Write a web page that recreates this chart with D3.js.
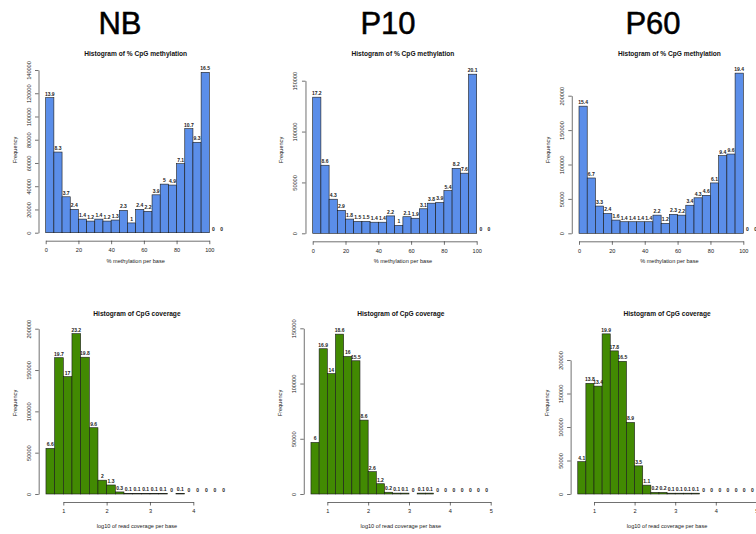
<!DOCTYPE html>
<html><head><meta charset="utf-8">
<script src="https://cdn.jsdelivr.net/npm/d3@7"></script>
<style>
body{margin:0;background:#fff;}
svg{display:block;font-family:"Liberation Sans",Arial,Helvetica,sans-serif;}
</style></head><body>
<svg id="chart" width="756" height="534"></svg>
<script>
// ---------- data ----------
const sampleNames = ["NB", "P10", "P60"];

const methBinStarts = [0,5,10,15,20,25,30,35,40,45,50,55,60,65,70,75,80,85,90,95,100,105];
const methBinWidth = 5;
const methXTicks = [0,20,40,60,80,100];

const nbMethCounts  = [116200,69400,30900,20100,11700,10000,11700,10000,10900,19200,8400,20100,18400,32600,41800,41000,59400,89500,77800,138000,0,0];
const nbMethLabels  = ["13.9","8.3","3.7","2.4","1.4","1.2","1.4","1.2","1.3","2.3","1","2.4","2.2","3.9","5","4.9","7.1","10.7","9.3","16.5","0","0"];
const p10MethCounts = [133800,66900,33500,22600,14000,11700,11700,10900,10900,17100,7800,16300,14800,24100,29600,30300,42000,63800,59100,156400,0,0];
const p10MethLabels = ["17.2","8.6","4.3","2.9","1.8","1.5","1.5","1.4","1.4","2.2","1","2.1","1.9","3.1","3.8","3.9","5.4","8.2","7.6","20.1","0","0"];
const p60MethCounts = [184800,80400,39600,28800,19200,16800,16800,16800,16800,26400,14400,27600,26400,40800,51600,55200,73200,112800,115200,232800,0,0];
const p60MethLabels = ["15.4","6.7","3.3","2.4","1.6","1.4","1.4","1.4","1.4","2.2","1.2","2.3","2.2","3.4","4.3","4.6","6.1","9.4","9.6","19.4","0","0"];

const nbMethYTicks  = [0,20000,40000,60000,80000,100000,120000,140000];
const p10MethYTicks = [0,50000,100000,150000];
const p60MethYTicks = [0,50000,100000,150000,200000];

const covBinStarts = [0.6,0.8,1.0,1.2,1.4,1.6,1.8,2.0,2.2,2.4,2.6,2.8,3.0,3.2,3.4,3.6,3.8,4.0,4.2,4.4,4.6,4.8];
const covBinWidth = 0.2;
const nbCovXTicks = [1,2,3,4];
const covXTicks = [1,2,3,4,5];

const nbCovCounts  = [55200,164900,142000,194000,165500,80200,16700,10900,2500,800,800,800,800,800,0,800,0,0,0,0,0];
const nbCovLabels  = ["6.6","19.7","17","23.2","19.8","9.6","2","1.3","0.3","0.1","0.1","0.1","0.1","0.1","0","0.1","0","0","0","0","0"];
const p10CovCounts = [46700,131500,109000,144700,124500,120600,66900,20200,9300,1600,800,800,0,800,800,0,0,0,0,0,0,0];
const p10CovLabels = ["6","16.9","14","18.6","16","15.5","8.6","2.6","1.2","0.2","0.1","0.1","0","0.1","0.1","0","0","0","0","0","0","0"];
const p60CovCounts = [48300,165200,161000,239000,213600,198000,106800,42000,13200,2400,2400,1200,1200,1200,1200,0,0,0,0,0,0,0];
const p60CovLabels = ["4.1","13.8","13.4","19.9","17.8","16.5","8.9","3.5","1.1","0.2","0.2","0.1","0.1","0.1","0.1","0","0","0","0","0","0","0"];

const nbCovYTicks  = [0,50000,100000,150000,200000];
const p10CovYTicks = [0,50000,100000,150000];
const p60CovYTicks = [0,50000,100000,150000,200000];

const methTitle = "Histogram of % CpG methylation";
const methXLabel = "% methylation per base";
const covTitle = "Histogram of CpG coverage";
const covXLabel = "log10 of read coverage per base";
const yLabel = "Frequency";

// ---------- layout ----------
const BLUE = "#5b8ee9", GREEN = "#428a02";
const svg = d3.select("#chart");

const panels = [
  {starts: methBinStarts, w: methBinWidth, counts: nbMethCounts, labels: nbMethLabels, xTicks: methXTicks, yTicks: nbMethYTicks,
   xDom:[0,100], xRange:[45.7,209.3], yRange:[232.7,70], row:0, fill:BLUE, title:methTitle, xlab:methXLabel},
  {starts: methBinStarts, w: methBinWidth, counts: p10MethCounts, labels: p10MethLabels, xTicks: methXTicks, yTicks: p10MethYTicks,
   xDom:[0,100], xRange:[312.7,476.7], yRange:[233.3,80.7], row:0, fill:BLUE, title:methTitle, xlab:methXLabel},
  {starts: methBinStarts, w: methBinWidth, counts: p60MethCounts, labels: p60MethLabels, xTicks: methXTicks, yTicks: p60MethYTicks,
   xDom:[0,100], xRange:[579,743.3], yRange:[233.3,95.7], row:0, fill:BLUE, title:methTitle, xlab:methXLabel},
  {starts: covBinStarts.slice(0, nbCovCounts.length), w: covBinWidth, counts: nbCovCounts, labels: nbCovLabels, xTicks: nbCovXTicks, yTicks: nbCovYTicks,
   xDom:[1,4], xRange:[63.3,193.3], yRange:[494,328.7], row:1, fill:GREEN, title:covTitle, xlab:covXLabel},
  {starts: covBinStarts, w: covBinWidth, counts: p10CovCounts, labels: p10CovLabels, xTicks: covXTicks, yTicks: p10CovYTicks,
   xDom:[1,5], xRange:[327.3,490.7], yRange:[494,328.3], row:1, fill:GREEN, title:covTitle, xlab:covXLabel},
  {starts: covBinStarts, w: covBinWidth, counts: p60CovCounts, labels: p60CovLabels, xTicks: covXTicks, yTicks: p60CovYTicks,
   xDom:[1,5], xRange:[594,756.4], yRange:[494,360], row:1, fill:GREEN, title:covTitle, xlab:covXLabel}
];

const rowTitleY = [55.5, 315.5];
const rowXLabY = [262.5, 527.5];
const rowFreqY = [150, 403];

panels.forEach(p => {
  const x = d3.scaleLinear().domain(p.xDom).range(p.xRange);
  const yTop = p.yTicks[p.yTicks.length - 1];
  const y = d3.scaleLinear().domain([0, yTop]).range(p.yRange);
  const lo = p.starts[0], hi = p.starts[p.starts.length - 1] + p.w;
  const yAxisX = x(lo - 0.04 * (hi - lo));
  const xAxisY = y(0) + 8;
  const cx = x((lo + hi) / 2);
  const g = svg.append("g");

  const bins = p.starts.map((s, i) => ({x0: s, x1: s + p.w, c: p.counts[i], lab: p.labels[i]}));

  g.selectAll("rect.bar").data(bins).join("rect")
    .attr("class", "bar")
    .attr("x", d => x(d.x0))
    .attr("width", d => x(d.x1) - x(d.x0))
    .attr("y", d => y(d.c))
    .attr("height", d => y(0) - y(d.c))
    .attr("fill", p.fill)
    .attr("stroke", "#1a1a1a")
    .attr("stroke-width", 0.6);

  g.selectAll("text.lab").data(bins).join("text")
    .attr("class", "lab")
    .attr("x", d => (x(d.x0) + x(d.x1)) / 2)
    .attr("y", d => y(d.c) - 2)
    .attr("text-anchor", "middle")
    .attr("font-size", 5)
    .attr("font-weight", "bold")
    .attr("fill", "#222")
    .text(d => d.lab);

  // x axis
  const xa = g.append("g").attr("transform", `translate(0,${xAxisY})`)
    .call(d3.axisBottom(x).tickValues(p.xTicks).tickSize(3.5).tickSizeOuter(0).tickFormat(d3.format("d")));
  xa.selectAll("path,line").attr("stroke", "#333").attr("stroke-width", 0.7);
  xa.selectAll("text").attr("y", 7.5).attr("font-size", 5.6).attr("font-family", "Liberation Sans, Arial, sans-serif").attr("fill", "#222");

  // y axis
  const ya = g.append("g").attr("transform", `translate(${yAxisX},0)`)
    .call(d3.axisLeft(y).tickValues(p.yTicks).tickSize(3.5).tickSizeOuter(0).tickFormat(d3.format("d")));
  ya.selectAll("path,line").attr("stroke", "#333").attr("stroke-width", 0.7);
  ya.selectAll("text")
    .attr("x", null).attr("dy", null)
    .attr("transform", "translate(-8,0) rotate(-90)")
    .attr("text-anchor", "middle")
    .attr("font-size", 5.6).attr("font-family", "Liberation Sans, Arial, sans-serif").attr("fill", "#222");

  // title and axis labels
  g.append("text").attr("x", cx).attr("y", rowTitleY[p.row]).attr("text-anchor", "middle")
    .attr("font-size", 6.6).attr("font-weight", "bold").attr("fill", "#111").text(p.title);
  g.append("text").attr("x", cx).attr("y", rowXLabY[p.row]).attr("text-anchor", "middle")
    .attr("font-size", 5.6).attr("fill", "#222").text(p.xlab);
  g.append("text").attr("transform", `translate(${yAxisX - 22},${rowFreqY[p.row]}) rotate(-90)`)
    .attr("text-anchor", "middle").attr("font-size", 5.6).attr("fill", "#222").text(yLabel);
});

// big sample headers
const headerX = [120, 388, 653];
svg.selectAll("text.hdr").data(sampleNames).join("text")
  .attr("class", "hdr")
  .attr("x", (d, i) => headerX[i])
  .attr("y", 34)
  .attr("text-anchor", "middle")
  .attr("font-size", 31)
  .attr("fill", "#000")
  .attr("stroke", "#000")
  .attr("stroke-width", 0.5)
  .text(d => d);
</script>
</body></html>
